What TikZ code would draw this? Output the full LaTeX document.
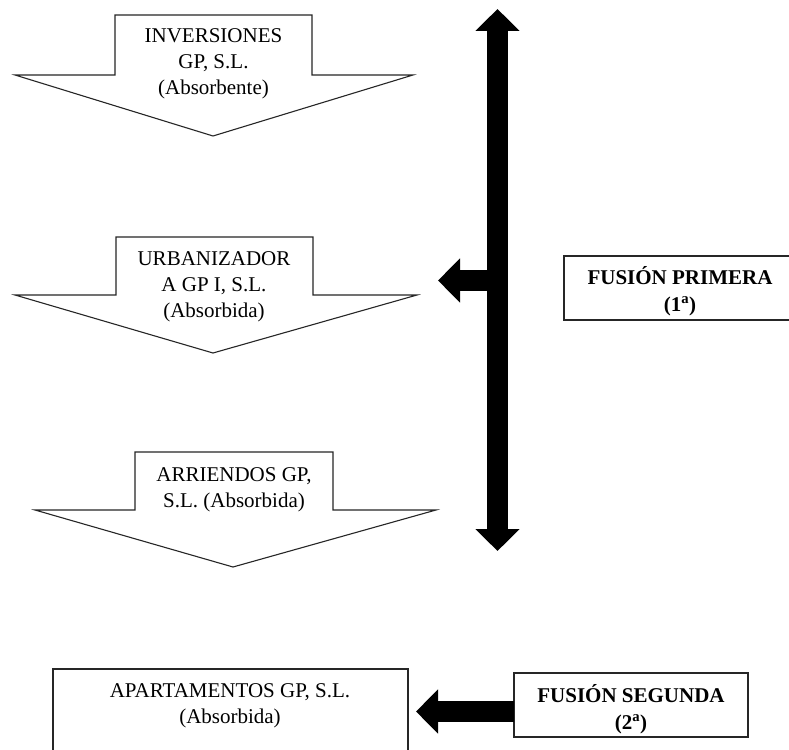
\documentclass[tikz,border=0pt]{standalone}
\usepackage{fontspec}
\setmainfont{Liberation Serif}
\usetikzlibrary{arrows.meta,calc}
\begin{document}
\begin{tikzpicture}[x=1pt,y=-1pt,
  outl/.style={draw=black!85,line width=1.1pt,fill=white,line join=miter},
  lbl/.style={align=center,inner sep=0pt,font=\fontsize{21}{26}\selectfont},
  blbl/.style={align=center,inner sep=0pt,font=\fontsize{21}{27}\selectfont\bfseries},
  boxx/.style={draw=black!85,line width=1.1pt,fill=white},
  blk/.style={line width=21pt,black},
  bigtip/.style={-{Triangle[width=43pt,length=22pt]}},
]
\useasboundingbox (0,0) rectangle (789,749);
\fill[white] (0,0) rectangle (789,749);

% block arrow shapes
\draw[outl] (115,15) -- (312,15) -- (312,75) -- (413,75) -- (213,136) -- (15,75) -- (115,75) -- cycle;
\draw[outl] (116,237) -- (313,237) -- (313,295) -- (417,295) -- (213,353) -- (15,295) -- (116,295) -- cycle;
\draw[outl] (135,452) -- (333,452) -- (333,510) -- (436,510) -- (233,567) -- (35,510) -- (135,510) -- cycle;

% labels
\node[lbl] (inv) at (213.5,64) {INVERSIONES\\GP, S.L.\\(Absorbente)};
\node[lbl] (urb) at (214,287) {URBANIZADOR\\A GP I, S.L.\\(Absorbida)};
\node[lbl] (arr) at (234,490) {ARRIENDOS GP,\\S.L. (Absorbida)};

% boxes
\draw[boxx] (564,256) rectangle (795,320);
\node[blbl] (fp) at (680,291) {FUSIÓN PRIMERA\\(1\textsuperscript{a})};
\draw[boxx] (53,669) rectangle (408,765);
\node[lbl] (apt) at (230,706) {APARTAMENTOS GP, S.L.\\(Absorbida)};
\draw[boxx] (514,673) rectangle (748,737);
\node[blbl] (fs) at (631,709) {FUSIÓN SEGUNDA\\(2\textsuperscript{a})};

% black connectors
\coordinate (dtop) at (497.5,9);
\coordinate (dbot) at (497.5,551);
\coordinate (brs) at (490,280.5);
\coordinate (brt) at (438,280.5);
\coordinate (fss) at (514,711.5);
\coordinate (fst) at (416,711.5);
\draw[blk,{Triangle[width=43pt,length=22pt]}-{Triangle[width=43pt,length=22pt]}] (dtop) -- (dbot);
\draw[blk,bigtip] (brs) -- (brt);
\draw[blk,bigtip] (fss) -- (fst);
\end{tikzpicture}
\end{document}
